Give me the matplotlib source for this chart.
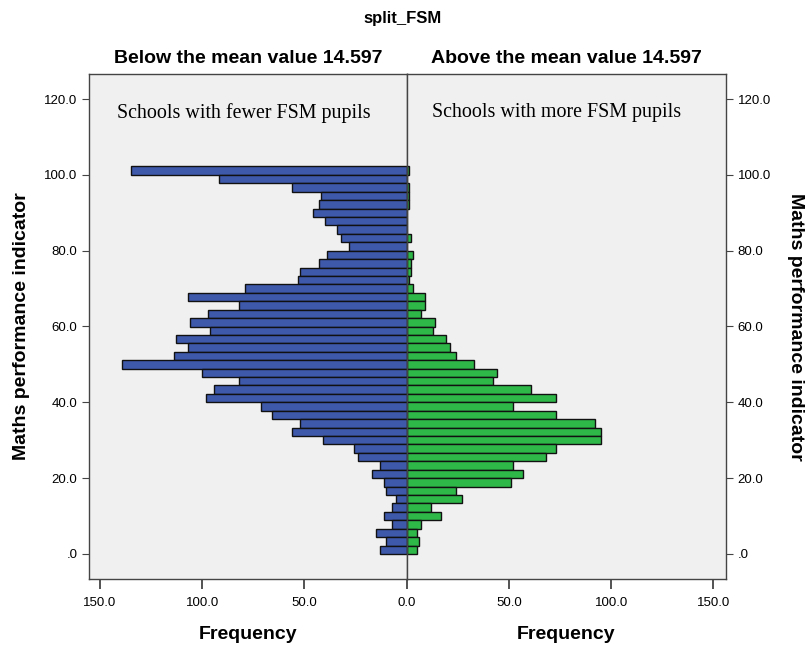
import numpy as np
import matplotlib.pyplot as plt

# bins of the maths performance indicator, from the bottom bar upward
bin_start = 0.0
bin_width = 2.222
n_bins = 46

# frequencies, listed from the top bar down
below_mean = [135, 92, 56, 42, 43, 46, 40, 34, 32, 28, 39, 43, 52, 53, 79, 107,
              82, 97, 106, 96, 113, 107, 114, 139, 100, 82, 94, 98, 71, 66, 52, 56,
              41, 26, 24, 13, 17, 11, 10, 5, 7, 11, 7, 15, 10, 13]
above_mean = [1, 0, 1, 1, 1, 0, 0, 0, 2, 0, 3, 2, 2, 1, 3, 9,
              9, 7, 14, 13, 19, 21, 24, 33, 44, 42, 61, 73, 52, 73, 92, 95,
              95, 73, 68, 52, 57, 51, 24, 27, 12, 17, 7, 5, 6, 5]

y_ticks = [0, 20, 40, 60, 80, 100, 120]
y_tick_labels = [".0", "20.0", "40.0", "60.0", "80.0", "100.0", "120.0"]
x_ticks_left = [150, 100, 50, 0]
x_ticks_right = [50, 100, 150]

blue = "#3E58AA"
green = "#2EB848"
panel_bg = "#F0F0F0"
spine_col = "#444444"

plt.rcParams['font.family'] = ['Liberation Sans', 'DejaVu Sans']

centers = bin_start + bin_width * (np.arange(n_bins)[::-1] + 0.5)

fig = plt.figure(figsize=(8.05, 6.45), dpi=100)
axl = fig.add_axes([0.1109, 0.1023, 0.3943, 0.783])
axr = fig.add_axes([0.5052, 0.1023, 0.3963, 0.783], sharey=axl)

for ax in (axl, axr):
    ax.set_facecolor(panel_bg)
    for s in ax.spines.values():
        s.set_color(spine_col)
        s.set_linewidth(1.0)

axl.barh(centers, below_mean, height=bin_width, color=blue, edgecolor="#111111", linewidth=1.0)
axr.barh(centers, above_mean, height=bin_width, color=green, edgecolor="#111111", linewidth=1.0)

axl.set_xlim(155.2, 0)
axr.set_xlim(0, 156)
axl.set_ylim(-6.6, 126.6)

axl.set_yticks(y_ticks)
axl.set_yticklabels(y_tick_labels, fontsize=9.5)
axl.tick_params(axis='y', length=5, color=spine_col)
axr.yaxis.tick_right()
axr.tick_params(axis='y', length=5, color=spine_col, labelright=True, labelleft=False, labelsize=9.5)

axl.set_xticks(x_ticks_left)
axl.set_xticklabels([f"{v:.1f}" for v in x_ticks_left], fontsize=9.5)
axr.set_xticks(x_ticks_right)
axr.set_xticklabels([f"{v:.1f}" for v in x_ticks_right], fontsize=9.5)
for ax in (axl, axr):
    ax.tick_params(axis='x', length=7, width=1.3, color=spine_col, pad=6)

axl.set_xlabel("Frequency", fontsize=14, fontweight='bold', labelpad=12)
axr.set_xlabel("Frequency", fontsize=14, fontweight='bold', labelpad=12)
axl.set_ylabel("Maths performance indicator", fontsize=14, fontweight='bold', labelpad=10)
axr.yaxis.set_label_position("right")
axr.set_ylabel("Maths performance indicator", fontsize=14, fontweight='bold',
               rotation=-90, labelpad=24)

axl.set_title("Below the mean value 14.597", fontsize=14, fontweight='bold', pad=8)
axr.set_title("Above the mean value 14.597", fontsize=14, fontweight='bold', pad=8)
fig.text(0.5, 0.972, "split_FSM", ha='center', va='center', fontsize=12, fontweight='bold')

axl.text(0.088, 0.923, "Schools with fewer FSM pupils", transform=axl.transAxes,
         family=['Liberation Serif'], fontsize=14.4, va='center', ha='left')
axr.text(0.08, 0.923, "Schools with more FSM pupils", transform=axr.transAxes,
         family=['Liberation Serif'], fontsize=14.4, va='center', ha='left')

fig.savefig("out.png", dpi=100)
